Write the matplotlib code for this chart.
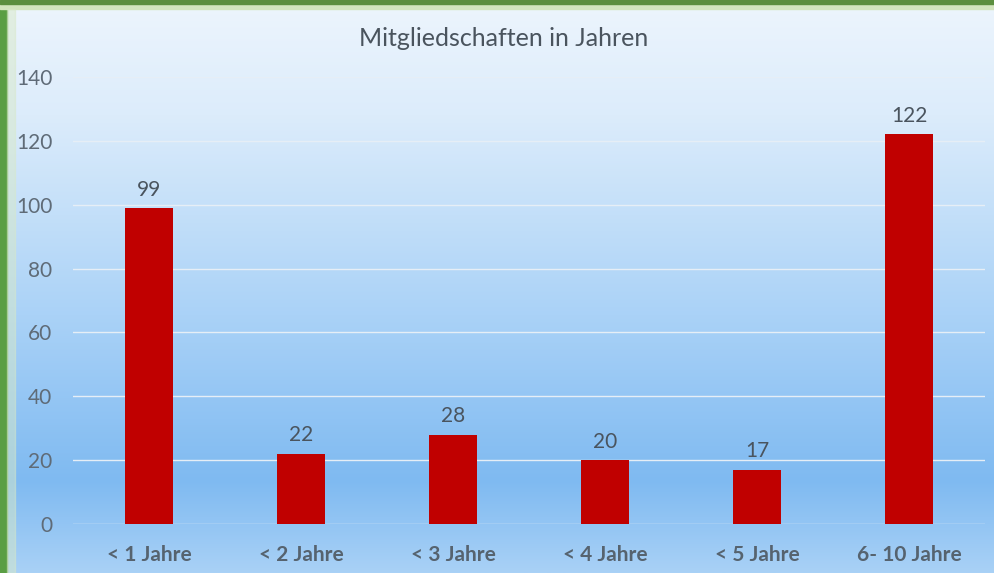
import numpy as np
import matplotlib
matplotlib.use("Agg")
import matplotlib.pyplot as plt
from matplotlib.colors import LinearSegmentedColormap
from matplotlib.patches import Rectangle

categories = ["< 1 Jahre", "< 2 Jahre", "< 3 Jahre", "< 4 Jahre", "< 5 Jahre", "6- 10 Jahre"]
values = [99, 22, 28, 20, 17, 122]
yticks = [0, 20, 40, 60, 80, 100, 120, 140]
title = "Mitgliedschaften in Jahren"

plt.rcParams['font.family'] = ['Lato', 'DejaVu Sans']

W, H = 994, 573
fig = plt.figure(figsize=(W/100, H/100), dpi=100)

# background gradient
bg = fig.add_axes([0, 0, 1, 1], zorder=0)
cmap = LinearSegmentedColormap.from_list("bg", [
    (0.0, "#a9d1f6"), (0.16, "#7fbaf1"), (0.45, "#aad2f7"), (0.8, "#dcecfb"), (1.0, "#edf5fd")])
grad = np.linspace(0, 1, 256).reshape(-1, 1)
bg.imshow(grad, aspect='auto', cmap=cmap, origin='lower', extent=[0, 1, 0, 1])
bg.set_xlim(0, 1); bg.set_ylim(0, 1)
bg.axis('off')
# green border
bg.add_patch(Rectangle((0, 0), 7/W, 1, color="#5a9e44", zorder=2))
bg.add_patch(Rectangle((0, 1-9/H), 1, 9/H, color="#d2e5bd", zorder=2))
bg.add_patch(Rectangle((0, 1-4/H), 1, 4/H, color="#5b8f3e", zorder=3))
bg.add_patch(Rectangle((7/W, 0), 8/W, 1-9/H, color="#d8e9c8", zorder=2, alpha=0.5))

ax = fig.add_axes([73/W, 49/H, 912/W, 447/H], zorder=1)
ax.patch.set_alpha(0)
x = np.arange(len(categories))
bars = ax.bar(x, values, width=0.315, color="#c00000", zorder=3)
ax.set_xlim(-0.5, len(categories) - 0.5)
ax.set_ylim(0, 140)
ax.set_yticks(yticks)
ax.set_xticks(x)
ax.set_xticklabels(categories, fontsize=15, fontweight='bold', color="#56636f")
ax.tick_params(axis='y', labelsize=15, labelcolor="#5f6b77", length=0, pad=15)
ax.tick_params(axis='x', length=0, pad=15)
ax.grid(axis='y', color="#e6eef6", linewidth=1.0, zorder=1)
for s in ax.spines.values():
    s.set_visible(False)
for xi, v in zip(x, values):
    ax.annotate(str(v), (xi, v), xytext=(0, 6), textcoords='offset points',
                ha='center', va='bottom', fontsize=15, color="#4a545e")
fig.text(504/W, 1-38/H, title, ha='center', va='center', fontsize=18, color="#4a545e")

fig.savefig("out.png", dpi=100)
